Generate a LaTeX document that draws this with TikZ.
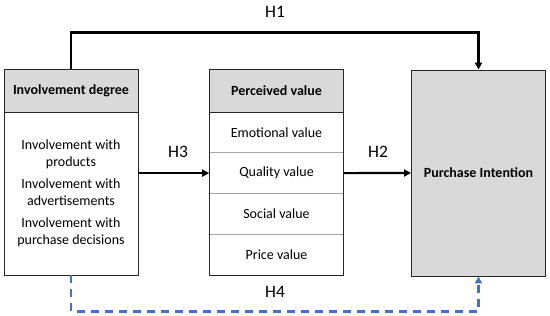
\documentclass[tikz,border=0pt]{standalone}
\usepackage{fontspec}
\setmainfont{Carlito}
\usetikzlibrary{arrows.meta,positioning}
\definecolor{headgray}{HTML}{D9D9D9}
\definecolor{rowline}{HTML}{A6A6A6}
\definecolor{hfourblue}{HTML}{4472C4}

\begin{document}
\begin{tikzpicture}[x=1pt,y=-1pt,every node/.style={font=\fontsize{14}{17}\selectfont}]
  \tikzstyle{HeadStyle}=[draw=black!85, fill=headgray, line width=0.9pt, inner sep=0pt,
    minimum width=134pt, minimum height=43pt, font=\fontsize{14}{17}\selectfont\bfseries]
  \tikzstyle{BodyStyle}=[draw=black!85, line width=0.9pt, inner sep=0pt, minimum width=134pt]
  \tikzstyle{RowStyle}=[draw=rowline, line width=0.6pt, inner sep=0pt, minimum width=134pt, minimum height=40.75pt]
  \tikzstyle{HStyle}=[font=\fontsize{17.5}{20}\selectfont]
  \tikzstyle{Arr}=[line width=2.2pt, -{Triangle[length=7pt,width=7pt]}]
  \tikzstyle{DashArr}=[hfourblue, line width=2.2pt, dash pattern=on 8pt off 6pt, -{Triangle[length=7pt,width=7pt]}]
  \useasboundingbox (0,0) rectangle (550,316);

  % involvement degree
  \node[HeadStyle] (ih) at (71,90.5) {Involvement degree};
  \node[BodyStyle, minimum height=163pt, align=center] (ib) at (71,193.5)
    {Involvement with\\products\\[5pt]Involvement with\\advertisements\\[5pt]Involvement with\\purchase decisions};

  % perceived value
  \node[HeadStyle] (ph) at (276.5,90.5) {Perceived value};
  \node[RowStyle] (r1) at (276.5,132.375) {Emotional value};
  \node[RowStyle] (r2) at (276.5,173.125) {Quality value};
  \node[RowStyle] (r3) at (276.5,213.875) {Social value};
  \node[RowStyle] (r4) at (276.5,254.625) {Price value};
  \draw[draw=black!85, line width=0.9pt] (ph.south west) rectangle (r4.south east);

  % purchase intention
  \node[HeadStyle, minimum height=206pt] (pi) at (478.5,173) {Purchase Intention};

  % hypotheses
  \draw[Arr] (ih.north) -- ++(0,-36) -| (pi.north);
  \draw[Arr] (ib.east |- r2) -- (r2.west);
  \draw[Arr] (r2.east) -- (pi.west);
  \draw[DashArr] (ib.south) -- ++(0,36) -| (pi.south);

  \node[HStyle] (h1) at (275,12) {H1};
  \node[HStyle] (h2) at (378,152) {H2};
  \node[HStyle] (h3) at (178,152) {H3};
  \node[HStyle] (h4) at (275,292) {H4};
\end{tikzpicture}
\end{document}
